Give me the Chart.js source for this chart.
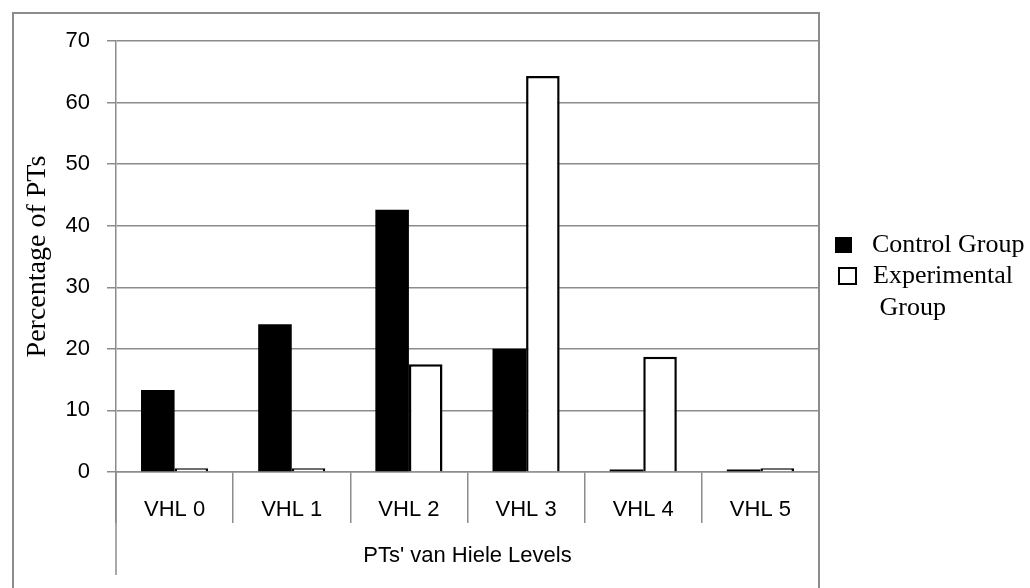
<!DOCTYPE html>
<html><head><meta charset="utf-8">
<script src="https://cdn.jsdelivr.net/npm/chart.js@4/dist/chart.umd.min.js"></script>
<style>html,body{margin:0;padding:0;background:#fff;overflow:hidden}#wrap{position:relative;width:1030px;height:588px}</style>
</head><body><div id="wrap"><canvas id="c" width="1030" height="588"></canvas></div>
<script>
const categories = ['VHL 0', 'VHL 1', 'VHL 2', 'VHL 3', 'VHL 4', 'VHL 5'];
const controlGroup = [13.3, 24, 42.6, 20, 0.4, 0.4];
const experimentalGroup = [0.6, 0.6, 17.5, 64.3, 18.7, 0.6];
const yTicks = [0, 10, 20, 30, 40, 50, 60, 70];
const seriesLabels = ['Control Group', 'Experimental Group'];
const legendLines = [['Control Group'], ['Experimental', ' Group']];
const yTitle = 'Percentage of PTs';
const xTitle = "PTs' van Hiele Levels";

const GRID = '#8c8c8c';
const SANS = '"Liberation Sans", Arial, sans-serif';
const SERIF = '"Liberation Serif", "Times New Roman", serif';

const framePlugin = {
  id: 'frame',
  afterDraw(chart) {
    const ctx = chart.ctx;
    const a = chart.chartArea;
    ctx.save();
    ctx.strokeStyle = GRID;
    ctx.lineWidth = 2;
    // outer border
    ctx.beginPath();
    ctx.moveTo(13, 600); ctx.lineTo(13, 13); ctx.lineTo(a.right, 13); ctx.lineTo(a.right, 600);
    ctx.stroke();
    // left axis extension
    ctx.lineWidth = 1.5;
    ctx.beginPath();
    ctx.moveTo(a.left, a.bottom); ctx.lineTo(a.left, 575);
    ctx.stroke();
    // legend
    ctx.fillStyle = '#000';
    ctx.fillRect(835, 237, 17, 16);
    ctx.strokeStyle = '#000';
    ctx.lineWidth = 2;
    ctx.strokeRect(839, 268, 17, 16);
    ctx.font = '26px ' + SERIF;
    ctx.textBaseline = 'middle';
    ctx.textAlign = 'left';
    ctx.fillText(legendLines[0][0], 872, 245);
    ctx.fillText(legendLines[1][0], 873, 276);
    ctx.fillText(legendLines[1][1], 873, 308);
    ctx.restore();
  }
};

new Chart(document.getElementById('c'), {
  type: 'bar',
  data: {
    labels: categories,
    datasets: [
      { label: seriesLabels[0], data: controlGroup, backgroundColor: '#000', borderColor: '#000', borderWidth: 0 },
      { label: seriesLabels[1], data: experimentalGroup, backgroundColor: '#fff', borderColor: '#000', borderWidth: 2.5 }
    ]
  },
  options: {
    responsive: false,
    animation: false,
    devicePixelRatio: 1,
    categoryPercentage: 0.573,
    barPercentage: 1,
    layout: { padding: { left: 13, top: 41, right: 211, bottom: 0 } },
    plugins: { legend: { display: false }, tooltip: { enabled: false } },
    scales: {
      x: {
        offset: true,
        grid: { drawOnChartArea: false, offset: true, tickLength: 51, color: GRID, lineWidth: 1.5 },
        border: { display: true, color: GRID, width: 1.5 },
        ticks: { color: '#000', font: { family: SANS, size: 22 }, padding: -26, maxRotation: 0 },
        title: { display: true, text: xTitle, color: '#000', font: { family: SANS, size: 22 }, padding: { top: 0, bottom: 19 } },
        afterFit(scale) { scale.height = 116; }
      },
      y: {
        min: 0, max: 70,
        afterBuildTicks(scale) { scale.ticks = yTicks.map(v => ({ value: v })); },
        grid: { color: GRID, lineWidth: 1.5, tickLength: 9 },
        border: { display: true, color: GRID, width: 1.5 },
        ticks: { color: '#000', font: { family: SANS, size: 22 }, padding: 17 },
        title: { display: true, text: yTitle, color: '#000', font: { family: SERIF, size: 28 }, padding: { top: 8, bottom: 0 } },
        afterFit(scale) { scale.width = 103; }
      }
    }
  },
  plugins: [framePlugin]
});
</script>
</body></html>
